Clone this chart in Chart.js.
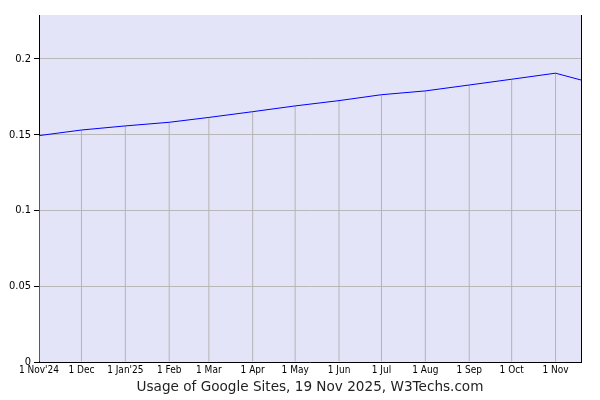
<!DOCTYPE html>
<html>
<head>
<meta charset="utf-8">
<script src="https://cdn.jsdelivr.net/npm/chart.js@4/dist/chart.umd.min.js"></script>
<style>
  html, body { margin: 0; padding: 0; background: #fff; }
  #wrap { width: 600px; height: 400px; }
</style>
</head>
<body>
<div id="wrap"><canvas id="usageChart" width="600" height="400"></canvas></div>
<script>
// days since 1 Nov 2024
const dayOffsets = [0, 30, 61, 92, 120, 151, 181, 212, 242, 273, 304, 334, 365, 383];
const usage = [0.1494, 0.1531, 0.1558, 0.1582, 0.1614, 0.1652, 0.1690, 0.1725, 0.1764, 0.1789, 0.1828, 0.1866, 0.1906, 0.1861];
const monthTicks = [0, 30, 61, 92, 120, 151, 181, 212, 242, 273, 304, 334, 365];
const monthLabels = ["1 Nov'24", '1 Dec', "1 Jan'25", '1 Feb', '1 Mar', '1 Apr', '1 May', '1 Jun', '1 Jul', '1 Aug', '1 Sep', '1 Oct', '1 Nov'];
const yTicks = [0, 0.05, 0.1, 0.15, 0.2];
const yTickLabels = ['0', '0.05', '0.1', '0.15', '0.2'];

const areaPlugin = {
  id: 'areaBg',
  beforeDraw(chart) {
    const { ctx, chartArea: a } = chart;
    ctx.save();
    ctx.fillStyle = '#e4e4f8';
    ctx.fillRect(a.left, a.top, a.right - a.left, a.bottom - a.top);
    ctx.restore();
  },
  afterDraw(chart) {
    const { ctx, chartArea: a } = chart;
    ctx.save();
    ctx.strokeStyle = '#000';
    ctx.lineWidth = 1;
    ctx.beginPath();
    ctx.moveTo(a.right + 0.5, a.top);
    ctx.lineTo(a.right + 0.5, a.bottom);
    ctx.stroke();
    ctx.restore();
  }
};

const ctx = document.getElementById('usageChart').getContext('2d');
new Chart(ctx, {
  type: 'line',
  data: {
    datasets: [{
      data: dayOffsets.map((d, i) => ({ x: d, y: usage[i] })),
      borderColor: '#0000ff',
      borderWidth: 1,
      pointRadius: 0,
      tension: 0,
      fill: false,
      order: 1
    }, {
      // drop lines from each monthly value down to the axis
      type: 'bar',
      data: monthTicks.map(d => ({ x: d, y: usage[dayOffsets.indexOf(d)] })),
      backgroundColor: '#b4b4b4',
      barThickness: 1,
      inflateAmount: 0,
      borderWidth: 0,
      grouped: false,
      order: 2
    }]
  },
  options: {
    responsive: false,
    animation: false,
    layout: { padding: { top: 15, right: 19, left: 0, bottom: 0 } },
    plugins: { legend: { display: false }, tooltip: { enabled: false } },
    scales: {
      x: {
        type: 'linear',
        min: 0,
        max: 383,
        offset: false,
        afterBuildTicks(scale) { scale.ticks = monthTicks.map(v => ({ value: v })); },
        afterFit(scale) { scale.height = 38; },
        grid: { drawOnChartArea: false, drawTicks: false, offset: false },
        border: { color: '#000' },
        ticks: {
          autoSkip: false,
          maxRotation: 0,
          padding: 2,
          color: '#000',
          font: { family: 'DejaVu Sans Condensed', size: 10 },
          callback: (v) => monthLabels[monthTicks.indexOf(v)]
        },
        title: {
          display: true,
          text: 'Usage of Google Sites, 19 Nov 2025, W3Techs.com',
          color: '#222',
          font: { family: 'DejaVu Sans', size: 13.6 },
          padding: { top: 2, bottom: 4 }
        }
      },
      y: {
        min: 0,
        max: 0.229,
        afterBuildTicks(scale) { scale.ticks = yTicks.map(v => ({ value: v })); },
        afterFit(scale) { scale.width = 39; },
        grid: { color: '#b8b8b8', tickColor: '#000', tickLength: 5 },
        border: { color: '#000' },
        ticks: {
          padding: 3,
          color: '#000',
          font: { family: 'DejaVu Sans Condensed', size: 11 },
          callback: (v) => yTickLabels[yTicks.indexOf(v)]
        }
      }
    }
  },
  plugins: [areaPlugin]
});
</script>
</body>
</html>
